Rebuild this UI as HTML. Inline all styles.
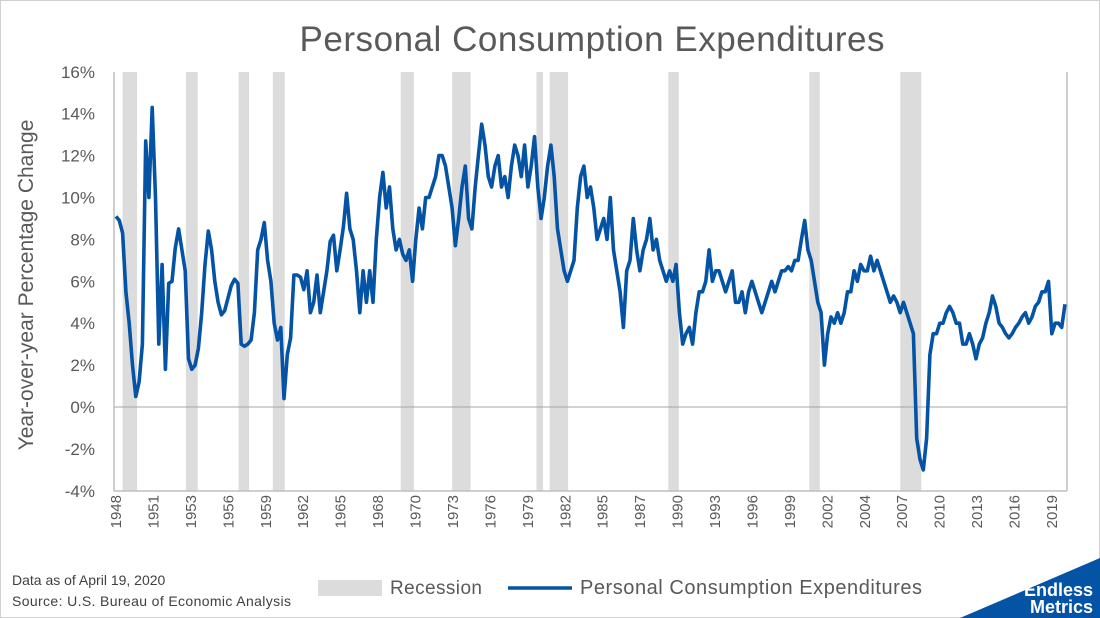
<!DOCTYPE html>
<html><head><meta charset="utf-8"><style>
body{margin:0;background:#fff}
svg{display:block;font-family:"Liberation Sans",sans-serif}
</style></head><body>
<svg width="1100" height="618" viewBox="0 0 1100 618">
<rect x="0.5" y="0.5" width="1099" height="617" fill="#fff" stroke="#d0d0d0"/>
<text x="592" y="51" font-size="35" fill="#595959" text-anchor="middle" textLength="585">Personal Consumption Expenditures</text>
<g id="rec"></g>
<g id="grid"></g>
<g id="xax"></g>
<path id="line" fill="none" stroke="#0453a5" stroke-width="3.6" stroke-linejoin="round"/>
<text transform="translate(33,285) rotate(-90)" font-size="21" fill="#595959" text-anchor="middle">Year-over-year Percentage Change</text>
<g>
<rect x="318" y="580" width="64" height="16" fill="#dcdcdc"/>
<text x="390" y="594" font-size="19" fill="#595959" textLength="92">Recession</text>
<line x1="508" y1="588" x2="572" y2="588" stroke="#0453a5" stroke-width="3.6"/>
<text x="580" y="594" font-size="20" fill="#595959" textLength="342">Personal Consumption Expenditures</text>
</g>
<text x="12" y="585" font-size="14" fill="#404040">Data as of April 19, 2020</text>
<text x="12" y="606" font-size="14" fill="#404040" textLength="279">Source: U.S. Bureau of Economic Analysis</text>
<polygon points="960,618 1100,558 1100,618" fill="#0453a5"/>
<text x="1093" y="596" font-size="18" font-weight="bold" fill="#fff" text-anchor="end">Endless</text>
<text x="1093" y="613" font-size="18" font-weight="bold" fill="#fff" text-anchor="end">Metrics</text>
</svg>
<script>
const startYear = 1948;
const pceValues = [
9.1,8.9,8.3,5.5, 4.0,2.0,0.5,1.2, 3.0,12.7,10.0,14.3, 10.0,3.0,6.8,1.8,
5.9,6.0,7.6,8.5, 7.5,6.5,2.3,1.8, 2.0,2.8,4.5,6.8, 8.4,7.5,6.0,5.0,
4.4,4.6,5.2,5.8, 6.1,5.9,3.0,2.9, 3.0,3.2,4.5,7.5, 8.0,8.8,7.0,6.0,
4.0,3.2,3.8,0.4, 2.5,3.3,6.3,6.3, 6.2,5.6,6.5,4.5, 5.0,6.3,4.5,5.5,
6.5,7.9,8.2,6.5, 7.5,8.6,10.2,8.5, 8.0,6.5,4.5,6.5, 5.0,6.5,5.0,8.0,
10.0,11.2,9.5,10.5, 8.5,7.5,8.0,7.3, 7.0,7.5,6.0,8.0, 9.5,8.5,10.0,10.0,
10.5,11.0,12.0,12.0, 11.5,10.5,9.5,7.7, 9.0,10.5,11.5,9.0, 8.5,10.5,12.0,13.5,
12.5,11.0,10.5,11.5, 12.0,10.5,11.0,10.0, 11.5,12.5,12.0,11.0, 12.5,10.5,11.5,12.9,
10.5,9.0,10.0,11.5, 12.5,11.0,8.5,7.5, 6.5,6.0,6.5,7.0, 9.5,11.0,11.5,10.0,
10.5,9.5,8.0,8.5, 9.0,8.0,10.0,7.5, 6.5,5.5,3.8,6.5, 7.0,9.0,7.5,6.5,
7.5,8.0,9.0,7.5, 8.0,7.0,6.5,6.0, 6.5,6.0,6.8,4.5, 3.0,3.5,3.8,3.0,
4.5,5.5,5.5,6.0, 7.5,6.0,6.5,6.5, 6.0,5.5,6.0,6.5, 5.0,5.0,5.5,4.5,
5.5,6.0,5.5,5.0, 4.5,5.0,5.5,6.0, 5.5,6.0,6.5,6.5, 6.7,6.5,7.0,7.0,
8.0,8.9,7.5,7.0, 6.0,5.0,4.5,2.0, 3.5,4.3,4.0,4.5, 4.0,4.5,5.5,5.5,
6.5,6.0,6.8,6.5, 6.5,7.2,6.5,7.0, 6.5,6.0,5.5,5.0, 5.3,5.0,4.5,5.0,
4.5,4.0,3.5,-1.5, -2.5,-3.0,-1.5,2.5, 3.5,3.5,4.0,4.0, 4.5,4.8,4.5,4.0,
4.0,3.0,3.0,3.5, 3.0,2.3,3.0,3.3, 4.0,4.5,5.3,4.8, 4.0,3.8,3.5,3.3,
3.5,3.8,4.0,4.3, 4.5,4.0,4.3,4.8, 5.0,5.5,5.5,6.0, 3.5,4.0,4.0,3.8,
4.9];
const recStart = [1948.5,1953.3,1957.3,1959.9,1969.6,1973.5,1979.9,1980.9,1989.9,2000.6,2007.5];
const recEnd   = [1949.6,1954.2,1958.1,1960.8,1970.6,1974.9,1980.4,1982.3,1990.7,2001.4,2009.1];
const yTicks = [-4,-2,0,2,4,6,8,10,12,14,16];
const xLabels = ["1948","1951","1953","1956","1959","1962","1965","1968","1970","1973","1976","1979","1982","1985","1987","1990","1993","1996","1999","2002","2004","2007","2010","2013","2016","2019"];

const NS="http://www.w3.org/2000/svg";
const L=114,R=1067,T=72,B=491;
function xs(t){return 116+(t-1948)*13.18;}
function ys(v){return 407-v*20.95;}
function mk(tag,attrs,parent){const e=document.createElementNS(NS,tag);for(const k in attrs)e.setAttribute(k,attrs[k]);parent.appendChild(e);return e;}

const rec=document.getElementById('rec');
recStart.forEach((s,i)=>{
 const r=mk('rect',{x:xs(s),y:T,width:xs(recEnd[i])-xs(s),height:B-T,fill:'#dcdcdc'},rec);
 
 
});
const g=document.getElementById('grid');
yTicks.forEach(v=>{
 const t=mk('text',{x:95,y:ys(v)+6,'font-size':17,fill:'#595959','text-anchor':'end'},g);
 t.textContent=v+'%';
 
 
});
mk('line',{x1:L,y1:ys(0),x2:R,y2:ys(0),stroke:'#a6a6a6','stroke-width':1},g);
mk('line',{x1:L,y1:T,x2:L,y2:B,stroke:'#bfbfbf','stroke-width':1.5},g);
mk('line',{x1:R,y1:T,x2:R,y2:B,stroke:'#bfbfbf','stroke-width':1.5},g);
mk('line',{x1:L,y1:B,x2:R,y2:B,stroke:'#bfbfbf','stroke-width':1.5},g);
const xa=document.getElementById('xax');
const step=(1052-116)/(xLabels.length-1);
xLabels.forEach((lab,i)=>{
 const x=116+i*step;
 const t=mk('text',{transform:`translate(${x+5},${B+4}) rotate(-90)`,'font-size':15,fill:'#595959','text-anchor':'end'},xa);
 t.textContent=lab;
 
 
});
let d='';
pceValues.forEach((v,i)=>{const t=startYear+i*0.25;d+=(i?'L':'M')+xs(t).toFixed(1)+','+ys(v).toFixed(1);});
document.getElementById('line').setAttribute('d',d);
</script>
</body></html>
